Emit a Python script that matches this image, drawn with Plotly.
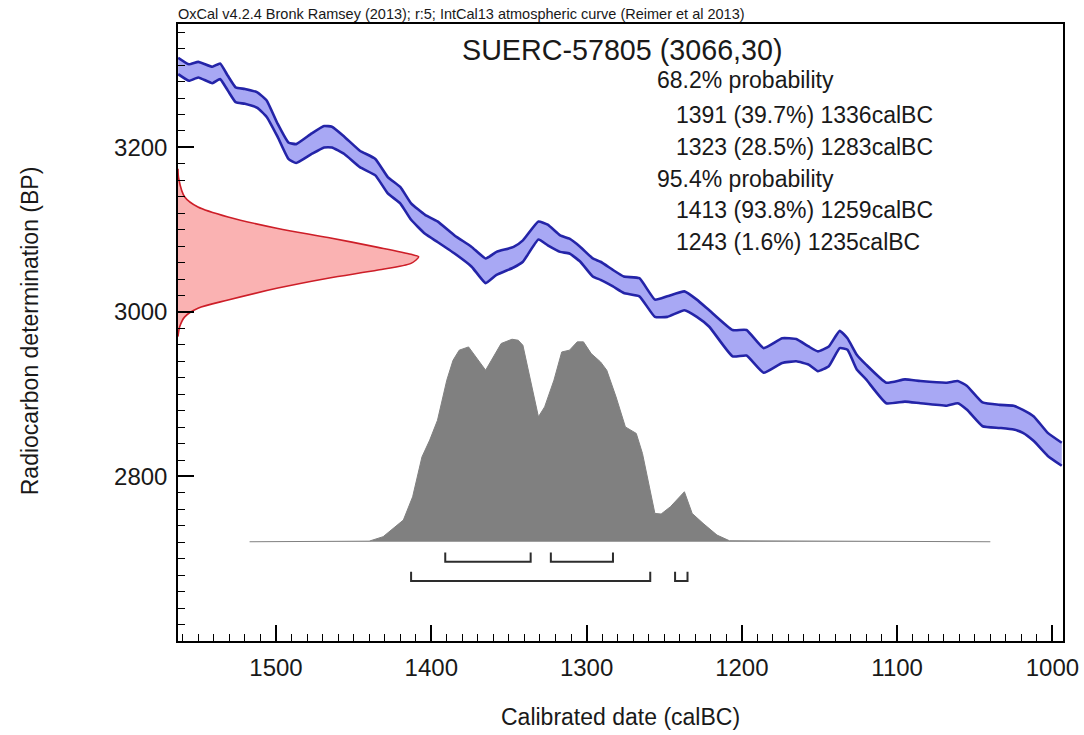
import plotly.graph_objects as go

# ---------------- data ----------------
# IntCal13 calibration band (calBC year, upper / lower BP edge)
curve_year = [1563, 1556, 1550, 1541, 1536, 1531, 1526, 1520, 1512, 1506, 1499, 1492, 1487,
              1477, 1469, 1464, 1456, 1446, 1436, 1428, 1420, 1413, 1404, 1396, 1385,
              1374, 1365, 1358, 1347, 1341, 1331, 1325, 1317, 1311, 1304, 1296,
              1291, 1283, 1276, 1266, 1256, 1248, 1237, 1229, 1221, 1206, 1197, 1186,
              1174, 1165, 1157, 1151, 1144, 1137, 1132, 1126, 1120, 1107, 1095, 1085,
              1068, 1061, 1055, 1045, 1034, 1025, 1019, 1012, 1003, 994]
curve_upper = [3309, 3301, 3304, 3298, 3302, 3287, 3273, 3271, 3267, 3257, 3229, 3206, 3204,
               3217, 3226, 3225, 3213, 3196, 3186, 3164, 3152, 3132, 3118, 3110, 3093,
               3079, 3065, 3073, 3079, 3087, 3110, 3106, 3093, 3089, 3079, 3065,
               3061, 3051, 3043, 3041, 3015, 3019, 3025, 3015, 3002, 2978, 2978, 2956,
               2968, 2967, 2958, 2952, 2958, 2977, 2968, 2948, 2936, 2914, 2918, 2916,
               2914, 2916, 2910, 2890, 2887, 2886, 2881, 2873, 2853, 2841]
curve_lower = [3289, 3281, 3285, 3278, 3283, 3269, 3255, 3253, 3248, 3237, 3213, 3186, 3181,
               3192, 3200, 3200, 3192, 3176, 3166, 3144, 3132, 3112, 3095, 3085, 3071,
               3055, 3035, 3045, 3054, 3061, 3088, 3081, 3073, 3071, 3061, 3043,
               3039, 3031, 3023, 3019, 2994, 2994, 3002, 2994, 2982, 2946, 2947, 2926,
               2938, 2940, 2936, 2928, 2934, 2956, 2954, 2930, 2918, 2889, 2891, 2889,
               2886, 2889, 2881, 2861, 2859, 2857, 2853, 2843, 2825, 2813]

# Radiocarbon determination distribution (BP, relative density)
r14c_bp = [2970, 2982, 2994, 3004.5, 3014.5, 3029, 3041, 3051, 3059, 3067,
           3070, 3078.5, 3090.5, 3101.5, 3115.5, 3127.6, 3139.8, 3162, 3174]
r14c_dens = [0, 0.007, 0.028, 0.083, 0.208, 0.415, 0.623, 0.831, 0.968, 1.0,
             0.968, 0.831, 0.623, 0.415, 0.208, 0.083, 0.028, 0.003, 0]

# Calibrated date distribution (calBC, relative probability)
cal_year = [1517, 1440, 1431, 1418, 1412, 1406, 1401, 1396, 1390, 1386, 1382, 1376, 1365,
            1360, 1355, 1348, 1344, 1341, 1336, 1331, 1327, 1321, 1316, 1311, 1306, 1302,
            1297, 1291, 1287, 1281, 1275, 1268, 1264, 1256, 1252, 1246, 1237, 1232, 1225,
            1216, 1208, 1040]
cal_prob = [0, 0.003, 0.025, 0.107, 0.222, 0.419, 0.502, 0.600, 0.798, 0.896, 0.946, 0.962,
            0.847, 0.913, 0.979, 1.0, 0.995, 0.970, 0.798, 0.617, 0.666, 0.798, 0.937, 0.946,
            0.987, 0.987, 0.929, 0.888, 0.847, 0.715, 0.567, 0.535, 0.436, 0.140, 0.137,
            0.173, 0.247, 0.140, 0.091, 0.033, 0.005, 0]

# Highest probability ranges (from, to calBC)
ranges_68 = [(1391, 1336), (1323, 1283)]
ranges_95 = [(1413, 1259), (1243, 1235)]

x_ticks = [1500, 1400, 1300, 1200, 1100, 1000]
y_ticks = [2800, 3000, 3200]

title_top = "OxCal v4.2.4 Bronk Ramsey (2013); r:5; IntCal13 atmospheric curve (Reimer et al 2013)"
sample = "SUERC-57805 (3066,30)"
text_lines = [
    ("68.2% probability", 0),
    ("1391 (39.7%) 1336calBC", 1),
    ("1323 (28.5%) 1283calBC", 1),
    ("95.4% probability", 0),
    ("1413 (93.8%) 1259calBC", 1),
    ("1243 (1.6%) 1235calBC", 1),
]

# ---------------- styling ----------------
FONT = "Liberation Sans, Arial, sans-serif"
TXT = "rgb(25,25,25)"
BLUE_LINE = "rgb(36,36,168)"
BLUE_FILL = "rgb(168,168,244)"
RED_LINE = "rgb(205,30,40)"
RED_FILL = "rgb(250,178,178)"
GREY = "rgb(128,128,128)"

fig = go.Figure()

# radiocarbon determination (on the y axis)
fig.add_trace(go.Scatter(x=r14c_dens, y=r14c_bp, xaxis="x2", yaxis="y",
                         mode="lines", line=dict(color=RED_LINE, width=1.6, shape="spline", smoothing=0.8),
                         fill="tozerox", fillcolor=RED_FILL, hoverinfo="skip"))

# calibration curve band
fig.add_trace(go.Scatter(x=curve_year, y=curve_lower, mode="lines",
                         line=dict(color=BLUE_LINE, width=2.6, shape="spline", smoothing=0.4),
                         hoverinfo="skip"))
fig.add_trace(go.Scatter(x=curve_year, y=curve_upper, mode="lines",
                         line=dict(color=BLUE_LINE, width=2.6, shape="spline", smoothing=0.4),
                         fill="tonexty", fillcolor=BLUE_FILL, hoverinfo="skip"))

# calibrated distribution
fig.add_trace(go.Scatter(x=cal_year, y=cal_prob, xaxis="x", yaxis="y2", mode="lines",
                         line=dict(color=GREY, width=1), fill="tozeroy", fillcolor=GREY,
                         hoverinfo="skip"))

# range brackets
def bracket_xy(ranges, level, tick):
    xs, ys = [], []
    for a, b in ranges:
        xs += [a, a, b, b, None]
        ys += [level + tick, level, level, level + tick, None]
    return xs, ys

for rngs, lvl in ((ranges_68, -0.099), (ranges_95, -0.194)):
    bx, by = bracket_xy(rngs, lvl, 0.046)
    fig.add_trace(go.Scatter(x=bx, y=by, xaxis="x", yaxis="y2", mode="lines",
                             line=dict(color="rgb(45,45,45)", width=2), hoverinfo="skip"))

# ---------------- layout ----------------
W, H = 1084, 735
PL, PR, PT, PB = 178, 1063, 23.5, 641          # plot box in page pixels
L, R, T, B = PL, W - PR, PT, H - PB
pw, ph = PR - PL, PB - PT

def px(x):
    return (x - PL) / pw

def py(y):
    return (PB - y) / ph

annotations = [
    dict(text=title_top, xref="paper", yref="paper", x=px(176), y=py(13), xanchor="left",
         yanchor="middle", showarrow=False, font=dict(family=FONT, size=14.5, color=TXT)),
    dict(text=sample, xref="paper", yref="paper", x=px(460), y=py(50), xanchor="left",
         yanchor="middle", showarrow=False, font=dict(family=FONT, size=28.7, color=TXT)),
    dict(text="Calibrated date (calBC)", xref="paper", yref="paper", x=px(620), y=py(717),
         xanchor="center", yanchor="middle", showarrow=False, font=dict(family=FONT, size=23, color=TXT)),
    dict(text="Radiocarbon determination (BP)", xref="paper", yref="paper", x=px(30), y=py(331),
         xanchor="center", yanchor="middle", textangle=-90, showarrow=False,
         font=dict(family=FONT, size=23, color=TXT)),
]
line_y = [80, 115, 146.7, 178.3, 210, 241.7]
for (txt, indent), yy in zip(text_lines, line_y):
    annotations.append(dict(text=txt, xref="paper", yref="paper",
                            x=px(655 if indent == 0 else 674), y=py(yy),
                            xanchor="left", yanchor="middle", showarrow=False,
                            font=dict(family=FONT, size=23, color=TXT)))

axis_common = dict(showgrid=False, zeroline=False, showline=True, linecolor="black",
                   linewidth=1.5, mirror=True, ticks="inside", ticklen=16, tickwidth=1.5,
                   tickcolor="black", automargin=False,
                   tickfont=dict(family=FONT, size=24, color=TXT))

fig.update_layout(
    width=W, height=H, margin=dict(l=L, r=R, t=T, b=B, autoexpand=False),
    paper_bgcolor="white", plot_bgcolor="white", showlegend=False,
    xaxis=dict(range=[1563.1, 993.2], tickmode="array", tickvals=x_ticks,
               ticklabelstandoff=4,
               minor=dict(tickmode="array", tickvals=list(range(1000, 1570, 10)),
                          ticks="inside", ticklen=7, tickwidth=1.2, tickcolor="black",
                          showgrid=False),
               **axis_common),
    yaxis=dict(range=[2600, 3350], tickmode="array", tickvals=y_ticks,
               ticklabelstandoff=4,
               minor=dict(tickmode="array", tickvals=list(range(2600, 3350, 20)),
                          ticks="inside", ticklen=7, tickwidth=1.2, tickcolor="black",
                          showgrid=False),
               **axis_common),
    xaxis2=dict(overlaying="x", range=[0, 3.677], visible=False),
    yaxis2=dict(overlaying="y", range=[-0.49, 2.5565], visible=False),
    annotations=annotations,
)

fig.write_html("out.html", config={"displayModeBar": False},
               post_script="document.body.style.margin='0px';document.body.style.overflow='hidden';")
